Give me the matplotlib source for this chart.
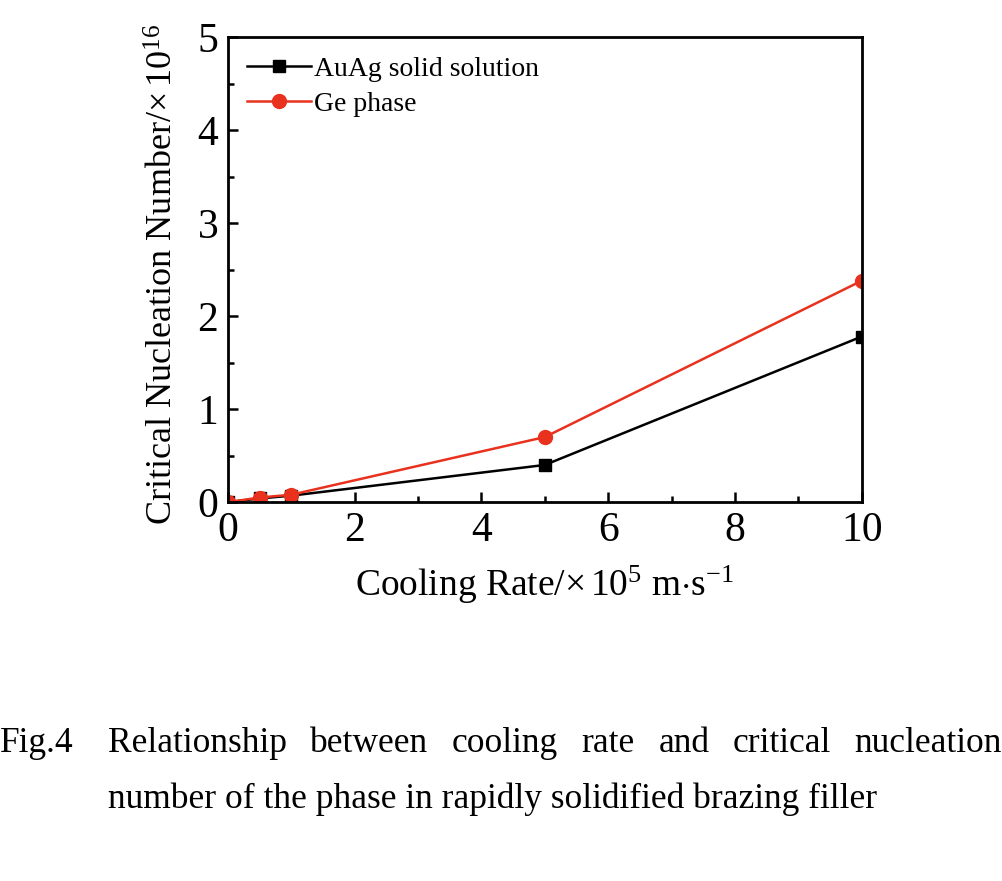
import matplotlib
matplotlib.use("Agg")
import matplotlib.pyplot as plt
from matplotlib.ticker import MultipleLocator

plt.rcParams['font.family'] = ['Liberation Serif', 'DejaVu Serif']
plt.rcParams['mathtext.fontset'] = 'custom'
plt.rcParams['mathtext.rm'] = 'Liberation Serif'
plt.rcParams['mathtext.it'] = 'Liberation Serif:italic'

# data
cooling_rate = [0, 0.5, 1, 5, 10]
auag = [0.0, 0.04, 0.07, 0.40, 1.78]
ge = [0.0, 0.05, 0.08, 0.70, 2.38]
x_ticks = [0, 2, 4, 6, 8, 10]
y_ticks = [0, 1, 2, 3, 4, 5]

caption_1 = ["Relationship", "between", "cooling", "rate", "and", "critical", "nucleation"]
caption_2 = "number of the phase in rapidly solidified brazing filler"

fig = plt.figure(figsize=(10.02, 8.81), dpi=100)
ax = fig.add_axes([0.2275, 0.430, 0.6325, 0.528])

ax.plot(cooling_rate, auag, color='black', lw=1.8, marker='s', ms=9,
        label='AuAg solid solution')
ax.plot(cooling_rate, ge, color='#e8321e', lw=1.8, marker='o', ms=10,
        label='Ge phase')

ax.set_xlim(0, 10)
ax.set_ylim(0, 5)
ax.set_xticks(x_ticks)
ax.set_yticks(y_ticks)
ax.xaxis.set_minor_locator(MultipleLocator(1))
ax.yaxis.set_minor_locator(MultipleLocator(0.5))
ax.tick_params(which='both', direction='in', width=1.8, labelsize=30, top=False, right=False)
ax.tick_params(which='major', length=7, pad=7)
ax.tick_params(which='minor', length=4)
for s in ax.spines.values():
    s.set_linewidth(2)

ax.set_xlabel(r'Cooling Rate/$\times\,$10$^{5}$ m$\cdot$s$^{-1}$', fontsize=27, labelpad=10)
ax.set_ylabel(r'Critical Nucleation Number/$\times\,$10$^{16}$', fontsize=26)
ax.yaxis.set_label_coords(-0.074, 0.49)

ax.legend(loc='upper left', frameon=False, fontsize=20, handlelength=2.3,
          handletextpad=0.1, borderaxespad=0.3, labelspacing=0.33)

# caption, first line justified across the width
fs = 25.5
fig.text(0.0, 0.146, "Fig.4", fontsize=fs, ha='left', va='baseline')
fig.canvas.draw()
r = fig.canvas.get_renderer()
x0, x1 = 108 / 1002, 1.0
texts = [fig.text(0, 0.146, w, fontsize=fs, ha='left', va='baseline') for w in caption_1]
widths = [t.get_window_extent(r).width / fig.bbox.width for t in texts]
gap = (x1 - x0 - sum(widths)) / (len(texts) - 1)
pos = x0
for t, w in zip(texts, widths):
    t.set_x(pos)
    pos += w + gap
fig.text(x0, 0.083, caption_2, fontsize=fs, ha='left', va='baseline')

fig.savefig('out.png', dpi=100)
